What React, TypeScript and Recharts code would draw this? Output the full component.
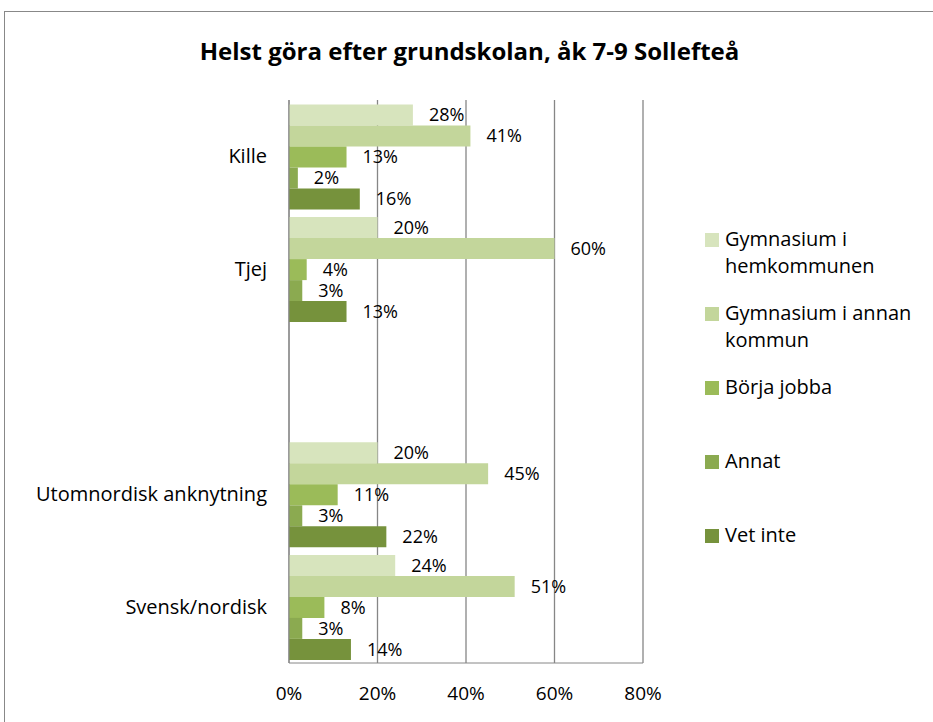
import React from "react"
import { Bar, BarChart, CartesianGrid, LabelList, XAxis, YAxis } from "recharts"

// chart values, in percent
const groups = ["Kille", "Tjej", "", "Utomnordisk anknytning", "Svensk/nordisk"]
const seriesNames = [
  "Gymnasium i hemkommunen",
  "Gymnasium i annan kommun",
  "Börja jobba",
  "Annat",
  "Vet inte",
]
const hemkommunen = [28, 20, null, 20, 24]
const annanKommun = [41, 60, null, 45, 51]
const borjaJobba = [13, 4, null, 11, 8]
const annat = [2, 3, null, 3, 3]
const vetInte = [16, 13, null, 22, 14]
const xTicks = [0, 20, 40, 60, 80]

const colors = ["#D7E4BD", "#C3D69B", "#9BBB59", "#8BAA50", "#76923C"]
const keys = ["s0", "s1", "s2", "s3", "s4"]
const values = [hemkommunen, annanKommun, borjaJobba, annat, vetInte]

const data = groups.map((name, i) => {
  const row: Record<string, string | number | null> = { name }
  keys.forEach((k, j) => {
    row[k] = values[j][i]
  })
  return row
})

const font = "'Open Sans', sans-serif"

function LegendBox() {
  return (
    <div
      style={{
        position: "absolute",
        left: 700,
        top: 213,
        width: 225,
        fontFamily: font,
        fontSize: 20,
        color: "#000",
      }}
    >
      {seriesNames.map((n, i) => (
        <div key={n} style={{ display: "flex", height: 74, alignItems: "flex-start" }}>
          <div
            style={{
              width: 14,
              height: 14,
              background: colors[i],
              marginTop: 8,
              marginRight: 6,
              flexShrink: 0,
            }}
          />
          <div style={{ lineHeight: "27px", marginTop: 0, width: 200 }}>{n}</div>
        </div>
      ))}
    </div>
  )
}

export default function App() {
  return (
    <div
      style={{
        position: "absolute",
        left: 4,
        top: 11,
        width: 940,
        height: 720,
        border: "1px solid #888",
        background: "#fff",
        fontFamily: font,
      }}
    >
      <div
        style={{
          position: "absolute",
          top: 22,
          left: 0,
          width: 929,
          textAlign: "center",
          fontWeight: "bold",
          fontSize: 24,
          color: "#000",
        }}
      >
        Helst göra efter grundskolan, åk 7-9 Sollefteå
      </div>
      <BarChart
        width={929}
        height={710}
        data={data}
        layout="vertical"
        margin={{ top: 88, right: 291, left: 0, bottom: 29 }}
        barCategoryGap="4%"
        barGap={0}
      >
        <CartesianGrid horizontal={false} stroke="#868686" strokeWidth={1.3} />
        <XAxis
          type="number"
          domain={[0, 80]}
          ticks={xTicks}
          interval={0}
          tickFormatter={(v) => `${v}%`}
          tickLine={false}
          tickSize={0}
          tickMargin={24}
          axisLine={{ stroke: "#868686" }}
          tick={{ fill: "#000", fontSize: 19, fontFamily: font }}
          height={30}
        />
        <YAxis
          type="category"
          dataKey="name"
          width={284}
          tickLine={false}
          tickSize={0}
          tickMargin={22}
          axisLine={{ stroke: "#868686" }}
          tick={{ fill: "#000", fontSize: 20, fontFamily: font }}
          interval={0}
        />
        {keys.map((k, j) => (
          <Bar key={k} dataKey={k} name={seriesNames[j]} fill={colors[j]} isAnimationActive={false}>
            <LabelList
              dataKey={k}
              position="right"
              offset={16}
              formatter={(v: any) => (v == null ? "" : `${v}%`)}
              style={{ fill: "#000", fontSize: 18, fontFamily: font }}
            />
          </Bar>
        ))}
      </BarChart>
      <LegendBox />
    </div>
  )
}
